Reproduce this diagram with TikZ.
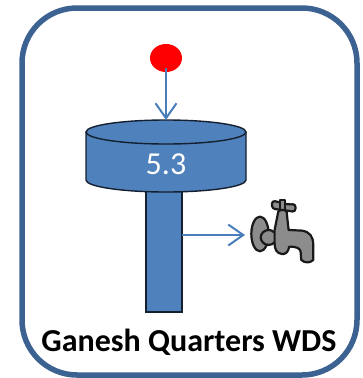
\documentclass[tikz,border=0pt]{standalone}
\usepackage{fontspec}
\setmainfont{Carlito}
\usetikzlibrary{arrows.meta,shapes.geometric}
\definecolor{tankblue}{HTML}{4F81BD}
\definecolor{framblue}{HTML}{3B6291}
\definecolor{linkblue}{HTML}{4A7EBB}
\definecolor{tapgray}{HTML}{8C8C8C}
\tikzset{
  link/.style={draw=linkblue,line width=2pt,-{Straight Barb[length=15pt,width=21pt,line width=2pt]}},
  tankpart/.style={fill=tankblue,draw=black!75!tankblue,line width=1.4pt},
  tappart/.style={fill=tapgray,draw=black!90,line width=2.2pt,line join=round}
}
\begin{document}
\begin{tikzpicture}[x=1pt,y=-1pt]
\useasboundingbox (0,0) rectangle (362,378);

\draw[framblue,line width=5.5pt,rounded corners=55pt] (22,8) rectangle (357,375);

\node[tankpart,minimum width=36pt,minimum height=122pt,inner sep=0pt,outer sep=0pt] (stem) at (164,251) {};

\draw[tankpart] (86,132) -- (86,180) arc[start angle=180,end angle=360,x radius=80,y radius=-12] -- (246,132);
\draw[tankpart] (166,132) ellipse[x radius=80,y radius=12];
\coordinate (tanktop) at (166,120);
\node[text=white,font=\fontsize{32pt}{32pt}\selectfont,inner sep=0pt] (level) at (166,164) {5.3};

\node[ellipse,fill=red,minimum width=32pt,minimum height=28pt,inner sep=0pt] (drop) at (166,58) {};
\coordinate (dropfoot) at (166,68);
\path[link] (dropfoot) -- (tanktop);

\coordinate (taptip) at (245,235);
\path[link] (stem.east |- taptip) -- (taptip);

% tap
\begin{scope}[shift={(230,180)},x=0.333pt,y=-0.333pt]
\draw[tappart] (90,162) ellipse[x radius=26,y radius=52];
\draw[tappart,rounded corners=8pt] (92,150) rectangle (140,195);
\draw[tappart,rounded corners=3pt] (126,62) -- (146,66) -- (176,74) -- (197,72) -- (196,96) -- (172,92) -- (126,86) -- cycle;
\draw[tappart] (150,60) -- (166,60) -- (166,95) -- (150,95) -- cycle;
\draw[tappart] (145,95) .. controls (150,88) and (165,88) .. (170,95) -- (176,150) -- (215,152)
  .. controls (240,155) and (250,170) .. (250,195) -- (250,240)
  .. controls (240,250) and (225,250) .. (214,240) -- (212,215)
  .. controls (210,205) and (200,200) .. (178,200)
  .. controls (175,218) and (165,224) .. (155,222)
  .. controls (140,220) and (134,208) .. (134,190) -- (134,150) -- cycle;
\end{scope}

\node[font=\fontsize{32pt}{32pt}\selectfont\bfseries,inner sep=0pt] (title) at (189,342) {Ganesh Quarters WDS};
\end{tikzpicture}
\end{document}
